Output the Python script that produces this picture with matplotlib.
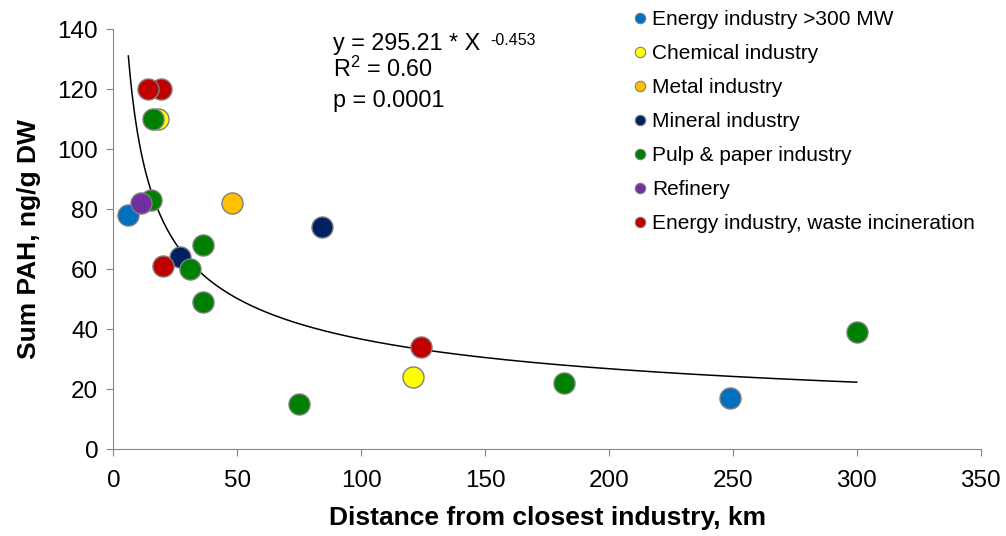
import numpy as np
import matplotlib.pyplot as plt
from matplotlib.lines import Line2D

plt.rcParams['font.family'] = ['Liberation Sans', 'DejaVu Sans']

# series (distance km, sum PAH ng/g DW)
categories = ['Energy industry >300 MW', 'Chemical industry', 'Metal industry',
              'Mineral industry', 'Pulp & paper industry', 'Refinery',
              'Energy industry, waste incineration']
colors = ['#0070C0', '#FFFF00', '#FFC000', '#002060', '#008000', '#7030A0', '#C00000']

energy_x = [6, 249]
energy_y = [78, 17]
chem_x = [18, 121]
chem_y = [110, 24]
metal_x = [48]
metal_y = [82]
mineral_x = [84, 27]
mineral_y = [74, 64]
pulp_x = [16, 15, 36, 31, 36, 75, 182, 300]
pulp_y = [110, 83, 68, 60, 49, 15, 22, 39]
refinery_x = [11]
refinery_y = [82]
waste_x = [19, 14, 20, 124]
waste_y = [120, 120, 61, 34]

series_x = [energy_x, chem_x, metal_x, mineral_x, pulp_x, refinery_x, waste_x]
series_y = [energy_y, chem_y, metal_y, mineral_y, pulp_y, refinery_y, waste_y]

# power fit y = a * x^b
fit_a = 295.21
fit_b = -0.453
fit_xmin, fit_xmax = 6, 300

fig = plt.figure(figsize=(10.06, 5.36), dpi=100, facecolor='white')
ax = fig.add_axes([0.1128, 0.1623, 0.862, 0.783])

xx = np.linspace(fit_xmin, fit_xmax, 400)
ax.plot(xx, fit_a * xx ** fit_b, color='black', lw=1.1, zorder=2)

for xs, ys, c in zip(series_x, series_y, colors):
    ax.scatter(xs, ys, s=230, color=c, edgecolors='#7f7f7f', linewidths=1.0, zorder=3)

ax.set_xlim(0, 350)
ax.set_ylim(0, 140)
ax.set_xticks(range(0, 351, 50))
ax.set_yticks(range(0, 141, 20))
for s in ['top', 'right']:
    ax.spines[s].set_visible(False)
for s in ['left', 'bottom']:
    ax.spines[s].set_color('#868686')
ax.tick_params(colors='#868686', labelcolor='black', labelsize=17.5, direction='out', length=5)
ax.tick_params(axis='x', pad=10)
ax.tick_params(axis='y', pad=6)
ax.set_xlabel('Distance from closest industry, km', fontsize=19, fontweight='bold', labelpad=10)
ax.set_ylabel('Sum PAH, ng/g DW', fontsize=19, fontweight='bold', labelpad=12)

# fit annotation
t1 = ax.text(0.253, 0.951, 'y = 295.21 * X', transform=ax.transAxes,
             fontsize=16.8, va='baseline', ha='left')
ax.annotate('-0.453', xy=(1, 1), xycoords=t1, xytext=(7, -1), textcoords='offset points',
            fontsize=11.5, va='top', ha='left')
ax.text(0.253, 0.887, r'R$^{\mathregular{2}}$ = 0.60', transform=ax.transAxes,
        fontsize=16.8, va='baseline', ha='left')
ax.text(0.253, 0.816, 'p = 0.0001', transform=ax.transAxes,
        fontsize=16.8, va='baseline', ha='left')

handles = [Line2D([], [], ls='none', marker='o', markersize=7.5, markerfacecolor=c,
                  markeredgecolor='#7f7f7f', markeredgewidth=0.8) for c in colors]
leg = fig.legend(handles, categories, loc='upper left', bbox_to_anchor=(0.622, 0.997),
                 frameon=False, fontsize=15, handlelength=0.6, handletextpad=0.25,
                 labelspacing=0.72, borderaxespad=0)

fig.savefig('out.png', dpi=100, facecolor='white')
